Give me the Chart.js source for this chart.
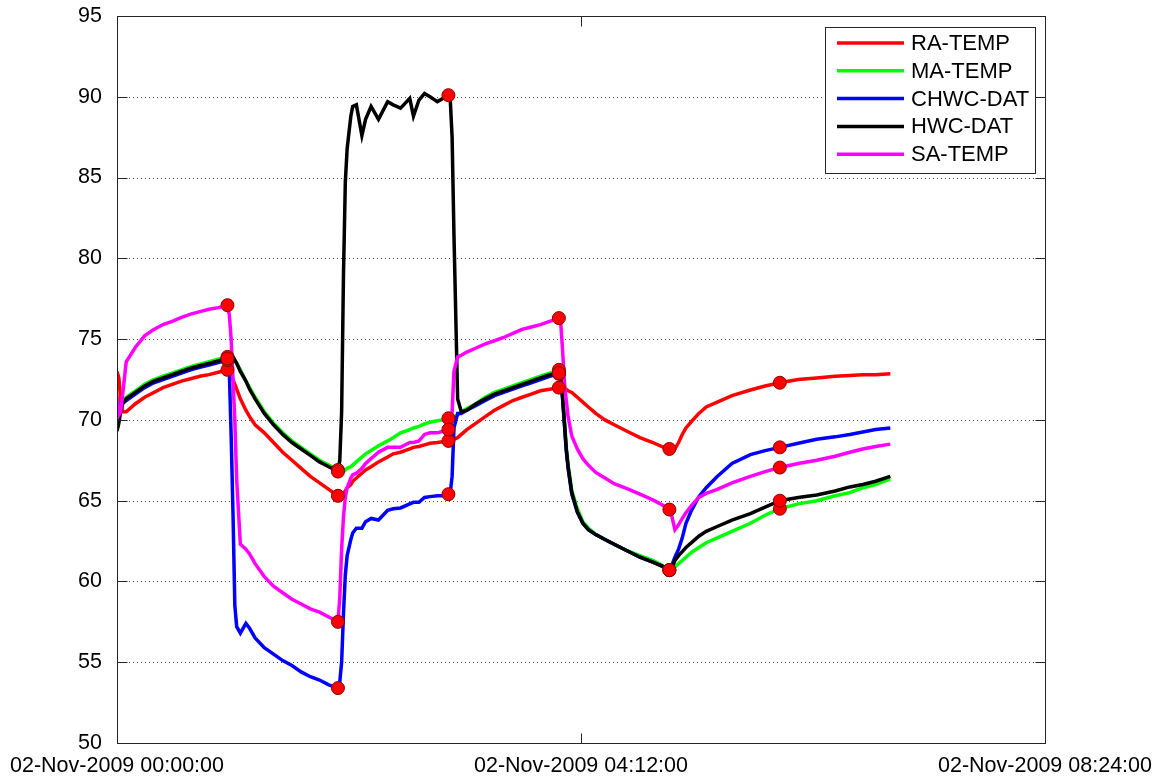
<!DOCTYPE html>
<html>
<head>
<meta charset="utf-8">
<script src="https://cdn.jsdelivr.net/npm/chart.js@4.4.1/dist/chart.umd.min.js"></script>
<style>
  html, body { margin: 0; padding: 0; background: #fff; }
</style>
</head>
<body>
<canvas id="tempChart" width="1165" height="779"></canvas>
<script>
// minutes after 02-Nov-2009 00:00:00
var minutes = [0,1,2,3,5,10,15,20,25,30,35,40,45,50,55,60,
  61,62,63,64,65,67,70,72,75,80,85,90,95,100,105,110,115,120,
  121,122,123,124,125,127,128,130,133,135,138,142,147,150,154,159,161,164,167,170,174,177,180,
  181,182,183,185,187,190,195,200,205,210,215,220,225,230,235,240,
  241,242,243,244,245,247,250,253,256,260,265,270,277,284,291,296,300,
  301,302,303,305,307,309,312,316,320,326,334,344,352,360,370,380,390,398,405,412,420];

var raTemp = [73.0,72.6,71.2,70.5,70.5,71.0,71.4,71.7,72.0,72.2,72.4,72.55,72.7,72.8,72.95,73.1,
  73.0,72.8,72.5,72.2,71.9,71.3,70.6,70.2,69.7,69.2,68.6,68.0,67.5,67.0,66.5,66.1,65.7,65.3,
  65.2,65.3,65.5,65.6,65.8,66.0,66.2,66.4,66.7,66.9,67.1,67.4,67.7,67.9,68.0,68.2,68.3,68.35,68.45,68.55,68.6,68.65,68.7,
  68.7,68.8,68.8,68.9,69.1,69.4,69.8,70.2,70.6,70.9,71.2,71.4,71.6,71.8,71.9,72.0,
  72.0,72.0,71.9,71.9,71.8,71.7,71.4,71.1,70.8,70.4,70.0,69.7,69.3,68.9,68.6,68.35,68.2,
  68.2,68.1,68.2,68.6,69.1,69.5,69.9,70.4,70.8,71.1,71.5,71.85,72.1,72.3,72.5,72.6,72.7,72.75,72.8,72.8,72.85];

var maTemp = [70.2,70.4,70.9,71.2,71.4,71.8,72.2,72.5,72.7,72.9,73.1,73.3,73.45,73.6,73.75,73.9,
  74.0,74.0,73.9,73.7,73.5,73.1,72.4,72.0,71.4,70.5,69.8,69.2,68.7,68.3,67.9,67.5,67.2,66.9,
  66.8,66.7,66.8,66.9,67.0,67.1,67.2,67.4,67.7,67.9,68.1,68.4,68.7,68.9,69.2,69.4,69.5,69.6,69.75,69.85,69.95,70.0,70.1,
  70.1,70.2,70.2,70.3,70.5,70.7,71.0,71.4,71.7,71.9,72.1,72.3,72.5,72.7,72.9,73.1,
  72.6,71.6,70.0,68.3,67.2,65.6,64.5,63.7,63.3,62.9,62.6,62.3,61.9,61.6,61.3,61.0,60.7,
  60.7,60.8,60.9,61.1,61.3,61.5,61.8,62.1,62.4,62.7,63.1,63.6,64.1,64.5,64.8,65.0,65.3,65.5,65.8,66.0,66.35];

var chwcDat = [71.2,70.8,70.8,71.0,71.2,71.6,72.0,72.3,72.5,72.7,72.9,73.1,73.25,73.4,73.55,73.7,
  73.0,69.0,64.2,58.5,57.2,56.8,57.4,57.1,56.5,55.9,55.5,55.1,54.8,54.4,54.1,53.9,53.6,53.4,
  53.8,55.0,58.0,60.4,61.6,62.6,63.0,63.3,63.3,63.7,63.9,63.8,64.4,64.5,64.55,64.8,64.9,64.9,65.2,65.25,65.3,65.3,65.4,
  65.5,66.5,69.5,70.4,70.4,70.6,70.9,71.2,71.5,71.7,71.9,72.1,72.3,72.5,72.7,72.85,
  72.5,71.3,69.7,68.1,67.0,65.4,64.3,63.6,63.2,62.9,62.6,62.3,61.9,61.5,61.2,60.95,60.7,
  60.9,61.2,61.5,62.0,62.7,63.6,64.4,65.25,65.8,66.5,67.3,67.85,68.1,68.3,68.55,68.8,68.95,69.1,69.25,69.4,69.5];

var hwcDat = [69.3,69.8,70.5,71.0,71.3,71.7,72.1,72.4,72.6,72.8,73.0,73.2,73.35,73.5,73.65,73.8,
  73.9,74.0,73.9,73.7,73.5,73.0,72.4,71.9,71.3,70.4,69.7,69.1,68.6,68.2,67.8,67.4,67.1,66.8,
  67.5,70.5,79.0,84.7,86.8,88.8,89.4,89.5,87.6,88.6,89.4,88.6,89.7,89.5,89.3,89.9,88.8,89.8,90.2,90.0,89.7,89.9,90.1,
  89.8,87.5,81.5,71.3,70.5,70.6,71.0,71.3,71.6,71.8,72.0,72.2,72.4,72.6,72.8,72.9,
  72.6,71.4,69.8,68.2,67.1,65.5,64.3,63.6,63.2,62.9,62.6,62.3,61.9,61.5,61.2,60.95,60.7,
  60.8,61.0,61.3,61.6,61.85,62.1,62.4,62.8,63.1,63.4,63.8,64.2,64.6,65.0,65.2,65.35,65.6,65.85,66.0,66.2,66.5];

var saTemp = [71.5,70.3,70.5,71.5,73.6,74.5,75.2,75.6,75.9,76.1,76.35,76.55,76.7,76.85,76.95,77.1,
  76.5,75.0,72.5,70.0,66.3,62.3,62.0,61.7,61.1,60.3,59.7,59.3,58.9,58.6,58.3,58.1,57.8,57.5,
  59.0,62.0,64.0,65.2,65.8,66.4,66.6,66.7,67.0,67.3,67.6,68.0,68.3,68.3,68.3,68.6,68.6,68.7,69.1,69.2,69.2,69.3,69.4,
  69.5,70.5,73.0,73.9,74.0,74.2,74.45,74.7,74.9,75.1,75.35,75.6,75.75,75.9,76.1,76.3,
  76.0,74.3,72.3,71.2,70.2,69.0,68.2,67.6,67.2,66.75,66.4,66.05,65.75,65.4,65.05,64.75,64.45,
  64.2,63.7,63.2,63.5,63.9,64.25,64.7,65.2,65.45,65.7,66.1,66.5,66.8,67.05,67.3,67.5,67.75,68.0,68.2,68.35,68.5];

var seriesLabels = ['RA-TEMP', 'MA-TEMP', 'CHWC-DAT', 'HWC-DAT', 'SA-TEMP'];
var seriesColors = ['#ff0000', '#00ff00', '#0000ff', '#000000', '#ff00ff'];
var seriesValues = [raTemp, maTemp, chwcDat, hwcDat, saTemp];
var markerMinutes = [60, 120, 180, 240, 300, 360];

var yTickValues = [50, 55, 60, 65, 70, 75, 80, 85, 90, 95];
var xTickValues = [0, 252, 504];
var xTickLabels = ['02-Nov-2009 00:00:00', '02-Nov-2009 04:12:00', '02-Nov-2009 08:24:00'];

var FONT = "'Liberation Sans', Arial, sans-serif";

var datasets = seriesValues.map(function(vals, k) {
    return {
        label: seriesLabels[k],
        data: minutes.map(function(t, i) { return {x: t, y: vals[i]}; }),
        borderColor: seriesColors[k],
        borderWidth: 3.5,
        pointRadius: 0,
        tension: 0,
        fill: false,
        order: 5 - k
    };
});

// red circles at each marker time on every series
var markerPoints = [];
seriesValues.forEach(function(vals) {
    markerMinutes.forEach(function(m) {
        markerPoints.push({x: m, y: vals[minutes.indexOf(m)]});
    });
});
datasets.push({
    label: 'markers',
    data: markerPoints,
    showLine: false,
    pointRadius: 6.5,
    pointBackgroundColor: '#ff0000',
    pointBorderColor: '#8a0000',
    pointBorderWidth: 1,
    order: 0
});

var matlabAxes = {
    id: 'matlabAxes',
    beforeDatasetsDraw: function(chart) {
        var ctx = chart.ctx, a = chart.chartArea, ys = chart.scales.y;
        ctx.save();
        ctx.strokeStyle = '#444';
        ctx.lineWidth = 1;
        ctx.setLineDash([1, 3]);
        yTickValues.forEach(function(v) {
            if (v <= ys.min || v >= ys.max) return;
            var py = Math.round(ys.getPixelForValue(v)) + 0.5;
            ctx.beginPath();
            ctx.moveTo(a.left, py);
            ctx.lineTo(a.right, py);
            ctx.stroke();
        });
        ctx.restore();
    },
    afterDatasetsDraw: function(chart) {
        var ctx = chart.ctx, a = chart.chartArea, ys = chart.scales.y, xs = chart.scales.x;
        var L = Math.floor(a.left) + 0.5, R = Math.floor(a.right) + 0.5;
        var T = Math.floor(a.top) + 0.5, B = Math.floor(a.bottom) + 0.5;
        ctx.save();
        ctx.strokeStyle = '#262626';
        ctx.lineWidth = 1;
        ctx.strokeRect(L, T, R - L, B - T);
        ctx.beginPath();
        yTickValues.forEach(function(v) {
            var py = Math.round(ys.getPixelForValue(v)) + 0.5;
            ctx.moveTo(L, py); ctx.lineTo(L + 10, py);
            ctx.moveTo(R, py); ctx.lineTo(R - 10, py);
        });
        xTickValues.forEach(function(v) {
            var px = Math.round(xs.getPixelForValue(v)) + 0.5;
            ctx.moveTo(px, B); ctx.lineTo(px, B - 10);
            ctx.moveTo(px, T); ctx.lineTo(px, T + 10);
        });
        ctx.stroke();
        ctx.restore();
    },
    afterDraw: function(chart) {
        // legend box in the upper right of the axes
        var ctx = chart.ctx;
        var bx = 825.5, by = 27.5, bw = 210, bh = 146;
        ctx.save();
        ctx.fillStyle = '#fff';
        ctx.fillRect(bx, by, bw, bh);
        ctx.strokeStyle = '#262626';
        ctx.lineWidth = 1;
        ctx.strokeRect(bx, by, bw, bh);
        ctx.font = '22px ' + FONT;
        ctx.textBaseline = 'middle';
        ctx.fillStyle = '#000';
        seriesLabels.forEach(function(lbl, k) {
            var ry = 43 + k * 27.8;
            ctx.strokeStyle = seriesColors[k];
            ctx.lineWidth = 3.5;
            ctx.beginPath();
            ctx.moveTo(837, ry);
            ctx.lineTo(904, ry);
            ctx.stroke();
            ctx.fillText(lbl, 911, ry + 1);
        });
        ctx.restore();
    }
};

new Chart(document.getElementById('tempChart').getContext('2d'), {
    type: 'line',
    data: { datasets: datasets },
    options: {
        responsive: false,
        animation: false,
        layout: { padding: { left: 0, top: 16, right: 120, bottom: 0 } },
        plugins: {
            legend: { display: false },
            tooltip: { enabled: false }
        },
        scales: {
            x: {
                type: 'linear',
                min: 0,
                max: 504,
                afterBuildTicks: function(s) {
                    s.ticks = xTickValues.map(function(v) { return {value: v}; });
                },
                afterFit: function(s) {
                    s.height = 36;
                    s.paddingLeft = 0;
                    s.paddingRight = 0;
                },
                grid: { display: false },
                border: { display: false },
                ticks: {
                    autoSkip: false,
                    maxRotation: 0,
                    padding: 2,
                    color: '#000',
                    font: { family: FONT, size: 21.5 },
                    callback: function(v) {
                        var i = xTickValues.indexOf(v);
                        return i >= 0 ? xTickLabels[i] : '';
                    }
                }
            },
            y: {
                min: 50,
                max: 95,
                afterBuildTicks: function(s) {
                    s.ticks = yTickValues.map(function(v) { return {value: v}; });
                },
                afterFit: function(s) {
                    s.width = 117;
                    s.paddingTop = 0;
                    s.paddingBottom = 0;
                },
                grid: { display: false },
                border: { display: false },
                ticks: {
                    padding: 7,
                    color: '#000',
                    font: { family: FONT, size: 21.5 }
                }
            }
        }
    },
    plugins: [matlabAxes]
});
</script>
</body>
</html>
